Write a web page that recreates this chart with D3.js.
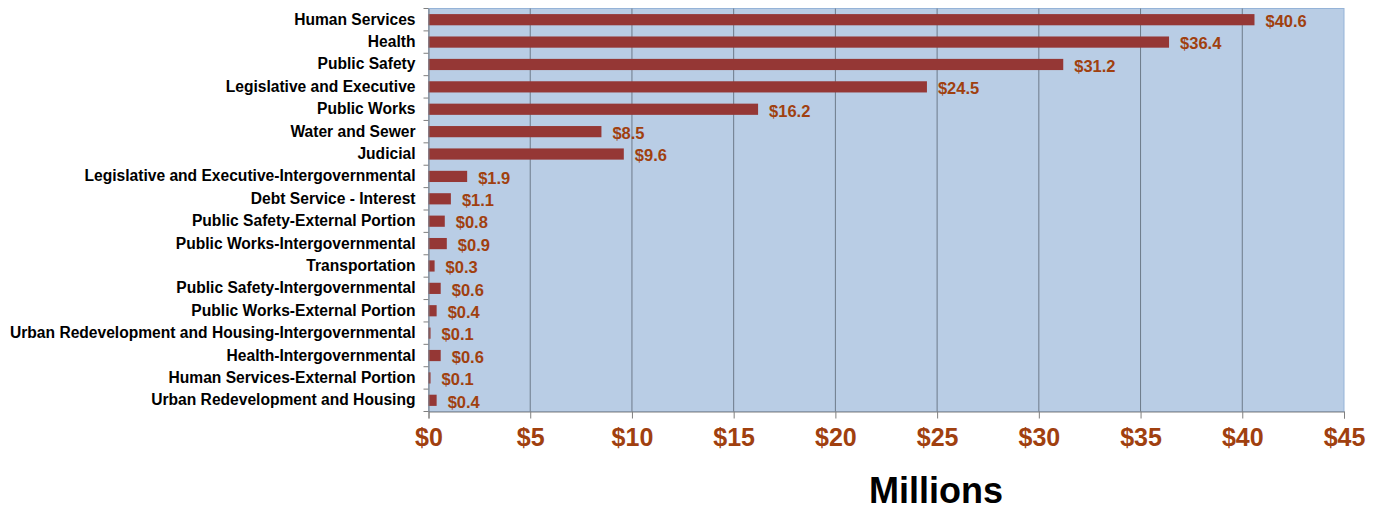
<!DOCTYPE html>
<html>
<head>
<meta charset="utf-8">
<script src="https://cdn.jsdelivr.net/npm/d3@7"></script>
<style>
  body { margin: 0; background: #fff; }
  text { font-family: "Liberation Sans", Arial, sans-serif; font-weight: bold; }
</style>
</head>
<body>
<script>
const categories = [
  "Human Services",
  "Health",
  "Public Safety",
  "Legislative and Executive",
  "Public Works",
  "Water and Sewer",
  "Judicial",
  "Legislative and Executive-Intergovernmental",
  "Debt Service - Interest",
  "Public Safety-External Portion",
  "Public Works-Intergovernmental",
  "Transportation",
  "Public Safety-Intergovernmental",
  "Public Works-External Portion",
  "Urban Redevelopment and Housing-Intergovernmental",
  "Health-Intergovernmental",
  "Human Services-External Portion",
  "Urban Redevelopment and Housing"
];
const values = [40.6, 36.4, 31.2, 24.5, 16.2, 8.5, 9.6, 1.9, 1.1, 0.8, 0.9, 0.3, 0.6, 0.4, 0.1, 0.6, 0.1, 0.4];
const xTicks = [0, 5, 10, 15, 20, 25, 30, 35, 40, 45];
const axisTitle = "Millions";

const width = 1378;
const height = 510;
const margin = { top: 8.5, right: 34, bottom: 98.5, left: 428.5 };
const innerW = width - margin.left - margin.right;
const innerH = height - margin.top - margin.bottom;

const svg = d3.select('body')
  .append('svg')
  .attr('width', width)
  .attr('height', height);

const x = d3.scaleLinear().domain([0, 45]).range([0, innerW]);
const y = d3.scaleBand().domain(categories).range([0, innerH]).paddingInner(0.5).paddingOuter(0.25);

const g = svg.append('g').attr('transform', `translate(${margin.left},${margin.top})`);

// plot background
g.append('rect')
  .attr('width', innerW)
  .attr('height', innerH)
  .attr('fill', '#b9cde5')
  .attr('stroke', '#95b3d7')
  .attr('stroke-width', 1);

// vertical gridlines
g.selectAll('.grid')
  .data(xTicks.slice(1, -1))
  .enter().append('line')
  .attr('x1', d => x(d)).attr('x2', d => x(d))
  .attr('y1', 0).attr('y2', innerH)
  .attr('stroke', '#6d7a89')
  .attr('stroke-width', 1);

// bars
g.selectAll('.bar')
  .data(values)
  .enter().append('rect')
  .attr('x', 0)
  .attr('y', (d, i) => y(categories[i]))
  .attr('width', d => x(d))
  .attr('height', y.bandwidth())
  .attr('fill', '#953735');

// value labels
g.selectAll('.val')
  .data(values)
  .enter().append('text')
  .attr('x', d => x(d) + 11)
  .attr('y', (d, i) => y(categories[i]) + y.bandwidth() / 2 + 1.5)
  .attr('dy', '0.35em')
  .attr('font-size', 16.5)
  .attr('fill', '#a0400f')
  .text(d => '$' + d.toFixed(1));

// x axis
const xAxis = g.append('g')
  .attr('transform', `translate(0,${innerH})`)
  .call(d3.axisBottom(x).tickValues(xTicks).tickSize(7).tickPadding(10).tickFormat(d => '$' + d));
xAxis.select('.domain').attr('stroke', '#7f7f7f');
xAxis.selectAll('.tick line').attr('stroke', '#7f7f7f');
xAxis.selectAll('text')
  .attr('font-size', 25)
  .attr('font-family', '"Liberation Sans", Arial, sans-serif')
  .attr('font-weight', 'bold')
  .attr('fill', '#a0400f');

// y axis
const yAxis = g.append('g')
  .call(d3.axisLeft(y).tickSize(0).tickPadding(13));
yAxis.select('.domain').attr('stroke', '#7f7f7f');
yAxis.selectAll('text')
  .attr('font-size', 15.6)
  .attr('font-family', '"Liberation Sans", Arial, sans-serif')
  .attr('font-weight', 'bold')
  .attr('fill', '#000');

// y tick marks between categories
const step = y.step();
g.selectAll('.ytick')
  .data(d3.range(categories.length + 1))
  .enter().append('line')
  .attr('x1', -5).attr('x2', 0)
  .attr('y1', i => i * step).attr('y2', i => i * step)
  .attr('stroke', '#7f7f7f');

// axis title
svg.append('text')
  .attr('x', 936)
  .attr('y', 503)
  .attr('text-anchor', 'middle')
  .attr('font-size', 36)
  .attr('fill', '#000')
  .text(axisTitle);
</script>
</body>
</html>
